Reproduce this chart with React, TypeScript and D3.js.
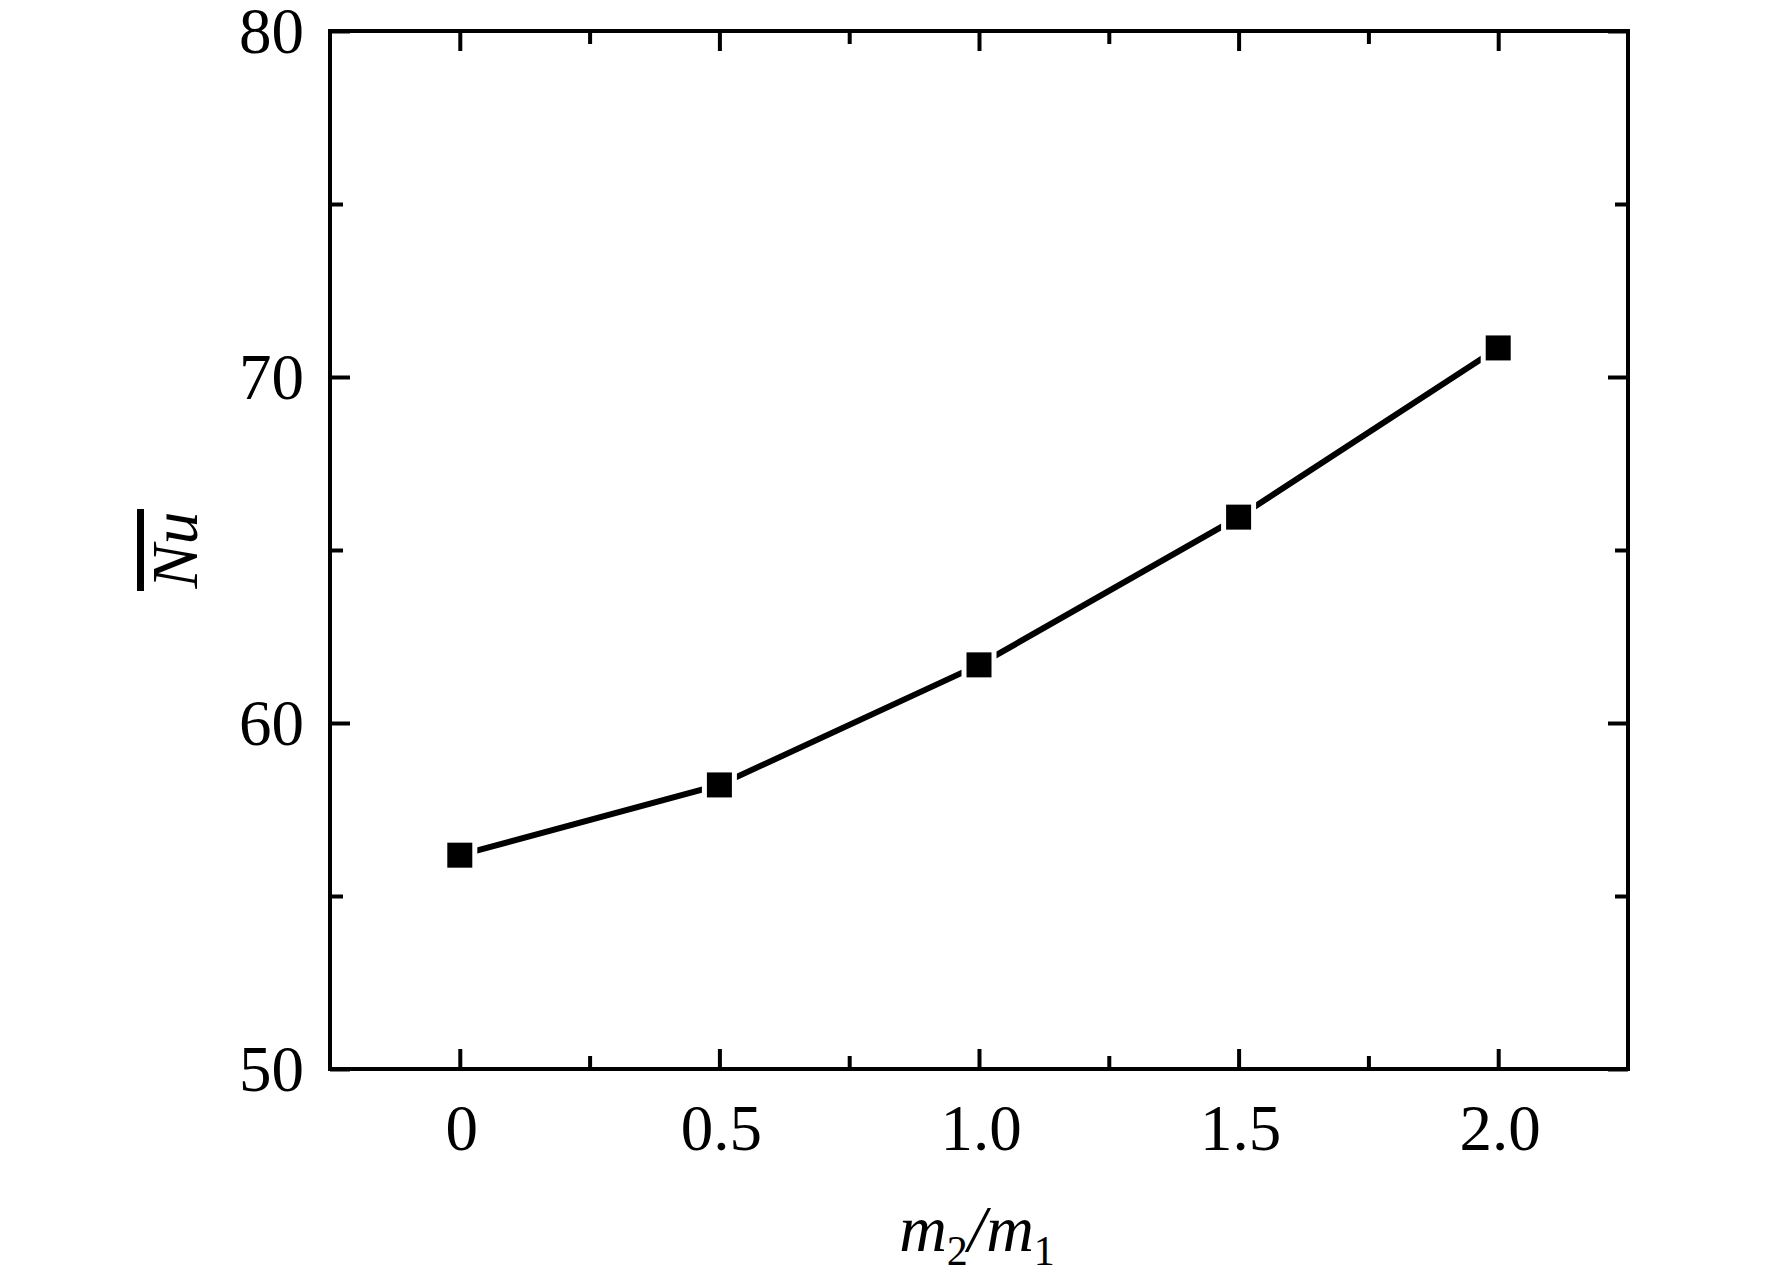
import React, { useEffect, useRef } from 'react';
import * as d3 from 'd3';

// data
const ratios = [0, 0.5, 1.0, 1.5, 2.0];
const nusselt = [56.18, 58.21, 61.68, 65.95, 70.84];

const xMajor = [0, 0.5, 1.0, 1.5, 2.0];
const xMinor = [0.25, 0.75, 1.25, 1.75];
const xLabels = ['0', '0.5', '1.0', '1.5', '2.0'];
const yMajor = [50, 60, 70, 80];
const yMinor = [55, 65, 75];

const W = 1772;
const H = 1276;
const FONT = '"Liberation Serif", "Times New Roman", serif';

export default function App() {
  const svgRef = useRef<SVGSVGElement>(null);

  useEffect(() => {
    if (!svgRef.current) return;
    const svg = d3.select(svgRef.current);
    svg.selectAll('*').remove();

    const left = 330, right = 1628, top = 31, bottom = 1069;

    const x = d3.scaleLinear().domain([-0.25, 2.25]).range([left, right]);
    const y = d3.scaleLinear().domain([50, 80]).range([bottom, top]);

    const major = 20;
    const minor = 13;

    const styleAxis = (g: d3.Selection<SVGGElement, unknown, null, undefined>) => {
      g.select('.domain').remove();
      g.selectAll('line').attr('stroke', '#000').attr('stroke-width', 4);
      g.selectAll('text').remove();
    };

    // ticks, all pointing inward
    const addAxis = (axis: d3.Axis<d3.NumberValue>, tx: number, ty: number) => {
      svg.append('g')
        .attr('transform', `translate(${tx},${ty})`)
        .call(axis as any)
        .call(styleAxis as any);
    };

    addAxis(d3.axisBottom(x).tickValues(xMajor).tickSizeInner(-major).tickSizeOuter(0), 0, bottom);
    addAxis(d3.axisBottom(x).tickValues(xMinor).tickSizeInner(-minor).tickSizeOuter(0), 0, bottom);
    addAxis(d3.axisTop(x).tickValues(xMajor).tickSizeInner(-major).tickSizeOuter(0), 0, top);
    addAxis(d3.axisTop(x).tickValues(xMinor).tickSizeInner(-minor).tickSizeOuter(0), 0, top);
    addAxis(d3.axisLeft(y).tickValues(yMajor).tickSizeInner(-major).tickSizeOuter(0), left, 0);
    addAxis(d3.axisLeft(y).tickValues(yMinor).tickSizeInner(-minor).tickSizeOuter(0), left, 0);
    addAxis(d3.axisRight(y).tickValues(yMajor).tickSizeInner(-major).tickSizeOuter(0), right, 0);
    addAxis(d3.axisRight(y).tickValues(yMinor).tickSizeInner(-minor).tickSizeOuter(0), right, 0);

    // frame
    svg.append('rect')
      .attr('x', left)
      .attr('y', top)
      .attr('width', right - left)
      .attr('height', bottom - top)
      .attr('fill', 'none')
      .attr('stroke', '#000')
      .attr('stroke-width', 4);

    // tick labels
    svg.selectAll('.xlab')
      .data(xMajor)
      .join('text')
      .attr('x', d => x(d) + 2)
      .attr('y', 1150)
      .attr('text-anchor', 'middle')
      .attr('font-family', FONT)
      .attr('font-size', 65)
      .attr('fill', '#000')
      .text((_, i) => xLabels[i]);

    svg.selectAll('.ylab')
      .data(yMajor)
      .join('text')
      .attr('x', 304)
      .attr('y', d => y(d) + 22)
      .attr('text-anchor', 'end')
      .attr('font-family', FONT)
      .attr('font-size', 65)
      .attr('fill', '#000')
      .text(d => String(d));

    // series line
    const pts = ratios.map((r, i) => [r, nusselt[i]] as [number, number]);
    const line = d3.line<[number, number]>()
      .x(d => x(d[0]))
      .y(d => y(d[1]));

    svg.append('path')
      .datum(pts)
      .attr('d', line)
      .attr('fill', 'none')
      .attr('stroke', '#000')
      .attr('stroke-width', 6);

    // square markers with a thin white ring (gap where the line meets them)
    const size = 25;
    const ring = 5;
    svg.selectAll('.pt')
      .data(pts)
      .join('rect')
      .attr('x', d => x(d[0]) - (size + ring) / 2)
      .attr('y', d => y(d[1]) - (size + ring) / 2)
      .attr('width', size + ring)
      .attr('height', size + ring)
      .attr('fill', '#000')
      .attr('stroke', '#fff')
      .attr('stroke-width', ring);

    // x axis title: m2/m1
    const xt = svg.append('text')
      .attr('x', 977)
      .attr('y', 1251)
      .attr('text-anchor', 'middle')
      .attr('font-family', FONT)
      .attr('font-size', 66)
      .attr('fill', '#000');
    xt.append('tspan').attr('font-style', 'italic').text('m');
    xt.append('tspan').attr('font-size', 42).attr('dy', 14).text('2');
    xt.append('tspan').attr('font-style', 'italic').attr('dy', -14).text('/');
    xt.append('tspan').attr('font-style', 'italic').text('m');
    xt.append('tspan').attr('font-size', 42).attr('dy', 14).text('1');

    // y axis title: Nu with overline
    const yt = svg.append('g').attr('transform', `translate(197,${(top + bottom) / 2}) rotate(-90)`);
    yt.append('text')
      .attr('x', 0)
      .attr('y', 0)
      .attr('text-anchor', 'middle')
      .attr('font-family', FONT)
      .attr('font-style', 'italic')
      .attr('font-size', 66)
      .attr('fill', '#000')
      .text('Nu');
    yt.append('rect')
      .attr('x', -41)
      .attr('y', -60)
      .attr('width', 82)
      .attr('height', 7)
      .attr('fill', '#000');
  }, []);

  return (
    <div style={{ position: 'absolute', left: 0, top: 0, width: W, height: H, background: '#fff' }}>
      <svg ref={svgRef} width={W} height={H} />
    </div>
  );
}
